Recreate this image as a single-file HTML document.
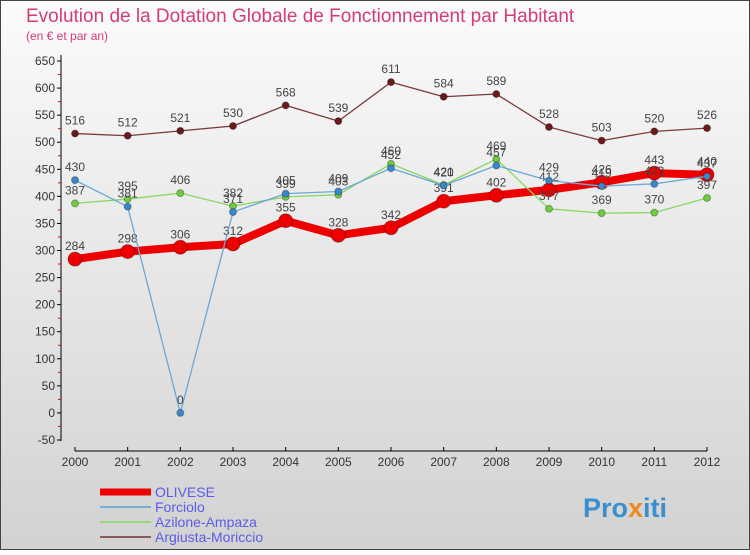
<!DOCTYPE html>
<html><head><meta charset="utf-8"><style>
body{margin:0;width:750px;height:550px;overflow:hidden;font-family:"Liberation Sans",sans-serif}
</style></head><body>
<svg id="c" width="750" height="550" xmlns="http://www.w3.org/2000/svg">
<defs><linearGradient id="bg" x1="0" y1="0" x2="0" y2="1"><stop offset="0" stop-color="#fbfbfb"/><stop offset="1" stop-color="#d2d2d2"/></linearGradient></defs>
<rect x="0.5" y="0.5" width="749" height="549" fill="url(#bg)" stroke="#444"/>
<text x="26" y="22" font-size="19" fill="#d23c78">Evolution de la Dotation Globale de Fonctionnement par Habitant</text>
<text x="26" y="40" font-size="12" fill="#d23c78">(en € et par an)</text>
<g id="axes"></g><g id="series"></g><g id="legend"></g>
<text x="583" y="517" font-size="27" font-weight="bold" fill="#3a8fd0">Pro<tspan fill="#f08a1e">x</tspan>iti</text>
</svg>
<script>
const years=[2000,2001,2002,2003,2004,2005,2006,2007,2008,2009,2010,2011,2012];
const olivese=[284,298,306,312,355,328,342,391,402,412,426,443,440];
const forciolo=[430,381,0,371,405,409,452,420,457,429,419,423,437];
const azilone=[387,395,406,382,399,403,460,421,469,377,369,370,397];
const argiusta=[516,512,521,530,568,539,611,584,589,528,503,520,526];
const yTicks=[-50,0,50,100,150,200,250,300,350,400,450,500,550,600,650];
const NS="http://www.w3.org/2000/svg";
const X=i=>75+i*(707-75)/12;
const Y=v=>440-(v+50)*(379/700);
function mk(t,a,p){const e=document.createElementNS(NS,t);for(const k in a)e.setAttribute(k,a[k]);p.appendChild(e);return e;}
const ax=document.getElementById('axes');
let l=mk('line',{x1:61,y1:55,x2:61,y2:441,stroke:'#000'},ax);


l=mk('line',{x1:75,y1:451,x2:707,y2:451,stroke:'#000'},ax);


yTicks.forEach(v=>{mk('line',{x1:57,x2:61,y1:Y(v),y2:Y(v),stroke:'#000'},ax);
 if(v<650)mk('line',{x1:58,x2:61,y1:Y(v+25),y2:Y(v+25),stroke:'#e00'},ax);
 const t=mk('text',{x:55,y:Y(v)+4,'font-size':12,'text-anchor':'end',fill:'#333'},ax);t.textContent=v;
 
 });
years.forEach((y,i)=>{mk('line',{x1:X(i),x2:X(i),y1:447,y2:451,stroke:'#000'},ax);
 const t=mk('text',{x:X(i),y:466,'font-size':12,'text-anchor':'middle',fill:'#333'},ax);t.textContent=y;
 
 });
const sg=document.getElementById('series');
function draw(name,d,col,w,r,dot){
 const g=mk('g',{},sg);
 
 
 mk('polyline',{points:d.map((v,i)=>X(i)+','+Y(v)).join(' '),fill:'none',stroke:col,'stroke-width':w,'stroke-linejoin':'round'},g);
 d.forEach((v,i)=>{const c=mk('circle',{cx:X(i),cy:Y(v),r:r,fill:dot,stroke:'rgba(0,0,0,0.3)'},g);
  
  
  const t=mk('text',{x:X(i),y:Y(v)-9,'font-size':12,'text-anchor':'middle',fill:'#444'},g);t.textContent=v;
  
  });
}
draw('argiusta',argiusta,'#7a3a3a',1.3,3.5,'#6b1a1a');
draw('olivese',olivese,'#e00',8,7,'#e00');
draw('azilone',azilone,'#88d860',1.3,3.5,'#70cc40');
draw('forciolo',forciolo,'#6aa8d8',1.3,3.5,'#3a88cc');
const lg=document.getElementById('legend');
[['OLIVESE','#e00',7],['Forciolo','#7ab0d8',2],['Azilone-Ampaza','#99d878',2],['Argiusta-Moriccio','#8a5a5a',2]].forEach((e,i)=>{
 const y=492+i*15;
 const r=mk('rect',{x:100,y:y-e[2]/2,width:51,height:e[2],fill:e[1]},lg);
 
 
 const t=mk('text',{x:155,y:y+5,'font-size':14,fill:'#5c5ce8'},lg);t.textContent=e[0];
 
 
});
</script>
</body></html>
